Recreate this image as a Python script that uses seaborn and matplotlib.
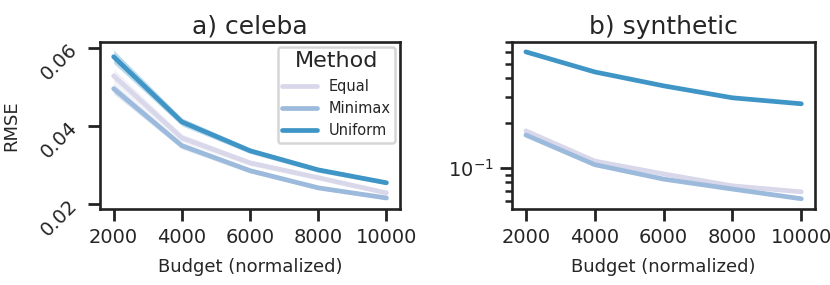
import numpy as np
import pandas as pd
import seaborn as sns
import matplotlib.pyplot as plt

budgets = [2000, 4000, 6000, 8000, 10000]
methods = ["Equal", "Minimax", "Uniform"]

# RMSE
celeba = {
    "Equal":   [0.0528, 0.0369, 0.0305, 0.0267, 0.0228],
    "Minimax": [0.0495, 0.0349, 0.0285, 0.0241, 0.0215],
    "Uniform": [0.0577, 0.0410, 0.0336, 0.0287, 0.0254],
}
celeba_ci = {
    "Equal":   [0.0017, 0.0010, 0.0007, 0.0006, 0.0005],
    "Minimax": [0.0013, 0.0008, 0.0006, 0.0005, 0.0004],
    "Uniform": [0.0017, 0.0010, 0.0007, 0.0006, 0.0005],
}
synthetic = {
    "Equal":   [0.177, 0.111, 0.091, 0.0757, 0.069],
    "Minimax": [0.166, 0.105, 0.084, 0.072, 0.062],
    "Uniform": [0.600, 0.440, 0.355, 0.295, 0.269],
}
synthetic_ci = {
    "Equal":   [0.004, 0.002, 0.0015, 0.001, 0.001],
    "Minimax": [0.003, 0.002, 0.0015, 0.001, 0.001],
    "Uniform": [0.006, 0.004, 0.003, 0.002, 0.002],
}

colors = {"Equal": "#d9d7ea", "Minimax": "#9cbadb", "Uniform": "#3f96c6"}

sns.set_theme(style="ticks")
plt.rcParams["font.family"] = ["DejaVu Sans"]


def to_df(d):
    rows = []
    for m in methods:
        for b, v in zip(budgets, d[m]):
            rows.append({"Budget": b, "RMSE": v, "Method": m})
    return pd.DataFrame(rows)


fig = plt.figure(figsize=(8.3, 2.85), dpi=100)
ax1 = fig.add_axes([0.1205, 0.267, 0.3615, 0.586])
ax2 = fig.add_axes([0.617, 0.267, 0.365, 0.586])

for ax, d, ci in [(ax1, celeba, celeba_ci), (ax2, synthetic, synthetic_ci)]:
    df = to_df(d)
    for m in methods:
        lo = np.array(d[m]) - np.array(ci[m])
        hi = np.array(d[m]) + np.array(ci[m])
        ax.fill_between(budgets, lo, hi, color=colors[m], alpha=0.35, lw=0)
    sns.lineplot(data=df, x="Budget", y="RMSE", hue="Method", palette=colors,
                 hue_order=methods, lw=3.4, ax=ax, legend=(ax is ax1))
    for s in ax.spines.values():
        s.set_linewidth(1.9)
        s.set_color("#222222")
    ax.tick_params(axis="both", which="major", length=8.5, width=2.0,
                   labelsize=14, color="#222222", pad=5)
    ax.set_xticks(budgets)
    ax.set_xlabel("Budget (normalized)", fontsize=13, labelpad=8)

ax1.set_ylim(0.0187, 0.0615)
ax1.set_yticks([0.02, 0.04, 0.06])
ax1.set_yticklabels(["0.02", "0.04", "0.06"], rotation=45)
ax1.set_ylabel("RMSE", fontsize=13, labelpad=12)
ax1.set_title("a) celeba", fontsize=18)

ax2.set_yscale("log")
ax2.set_ylim(0.053, 0.70)
ax2.tick_params(axis="y", which="minor", length=5, width=1.8, color="#222222")
ax2.set_ylabel("")
ax2.set_title("b) synthetic", fontsize=18)
ax2.yaxis.set_minor_formatter(plt.NullFormatter())

leg = ax1.legend(title="Method", loc="upper right", fontsize=10.5,
                 title_fontsize=16, frameon=True, borderpad=0.3,
                 handlelength=2.4, labelspacing=0.5, borderaxespad=0.35)
leg.get_frame().set_edgecolor("#cccccc")
leg.get_frame().set_linewidth(1.8)
for h in leg.get_lines():
    h.set_linewidth(3.4)

fig.savefig("out.png", dpi=100)
